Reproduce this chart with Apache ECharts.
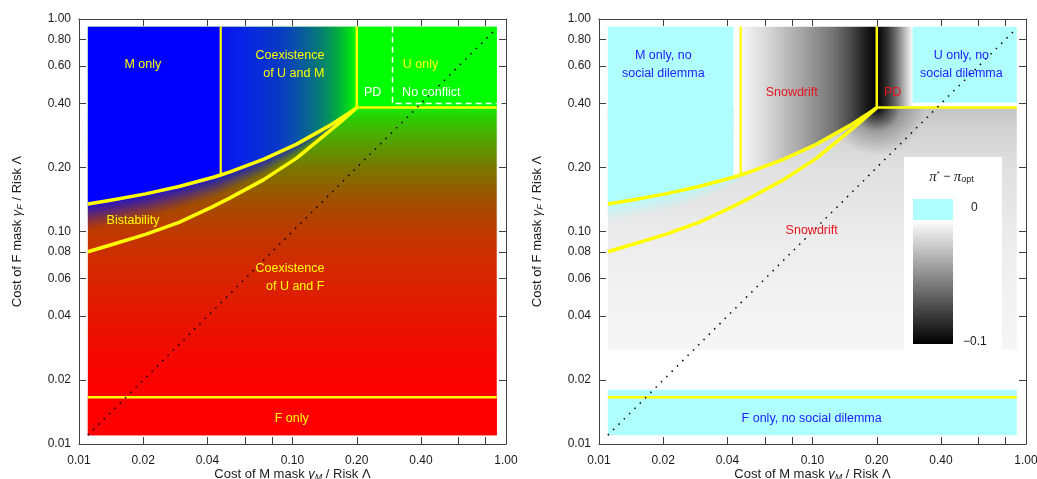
<!DOCTYPE html>
<html><head><meta charset="utf-8">
<script src="https://cdn.jsdelivr.net/npm/echarts@6/dist/echarts.min.js"></script>
<style>html,body{margin:0;padding:0;background:#fff}#c{width:1037px;height:479px}</style>
</head><body><div id="c"></div>
<script>
// ---------------- data ----------------
const axisTickValues = [0.01, 0.02, 0.04, 0.06, 0.08, 0.1, 0.2, 0.4, 0.6, 0.8, 1];
const xTickLabels = [0.01, 0.02, 0.04, 0.1, 0.2, 0.4, 1];
const yTickLabels = [0.01, 0.02, 0.04, 0.06, 0.08, 0.1, 0.2, 0.4, 0.6, 0.8, 1];
const dataExtentX = [0.011, 0.905];
const dataExtentY = [0.011, 0.92];

// upper (M-only / coexistence) boundary and lower bistability boundary
const upperBoundary = [[0.011,0.1347],[0.0143,0.1406],[0.0205,0.1503],[0.0294,0.1628],[0.0426,0.1800],[0.0461,0.1845],[0.051,0.1907],[0.073,0.2183],[0.1046,0.2577],[0.1498,0.3158],[0.1794,0.3550],[0.2,0.383]];
const lowerBoundary = [[0.011,0.0803],[0.0143,0.0869],[0.0205,0.0970],[0.0294,0.1103],[0.0421,0.1305],[0.051,0.1440],[0.073,0.1750],[0.1046,0.2215],[0.1395,0.2810],[0.1669,0.3262],[0.2,0.383]];
// lower edge of the speckled zone just below the upper boundary
const bistabilitySpeckleEdge = [[0.011,0.100],[0.0143,0.105],[0.0205,0.114],[0.0294,0.126],[0.0426,0.142],[0.0461,0.147],[0.051,0.154],[0.073,0.182],[0.1046,0.226],[0.1498,0.294],[0.1794,0.342],[0.2,0.383]];
const noDilemmaSpeckleEdge = [[0.011,0.110],[0.0143,0.115],[0.0205,0.124],[0.0294,0.139],[0.0426,0.166],[0.0461,0.176],[0.051,0.188],[0.073,0.217],[0.1046,0.2577],[0.1498,0.3158],[0.1794,0.3550],[0.2,0.383]];

const mOnlyX = 0.0461;
const pdCorner = [0.2, 0.383];
const fOnlyY = 0.0166;
const noConflictX = 0.294;
const noConflictY = 0.40;
const diagonal = [[0.011, 0.011], [0.9, 0.9]];

// left panel colour scales
const leftLowerStops = [[0.383,'#14ee08'],[0.335,'#30c800'],[0.29,'#48b000'],[0.242,'#609400'],[0.202,'#787800'],[0.168,'#8c6400'],[0.141,'#a05000'],[0.098,'#c03800'],[0.068,'#d42800'],[0.0475,'#e01c00'],[0.033,'#ec1000'],[0.023,'#f80400'],[0.0166,'#ff0000']];
const leftCoexistenceUMStops = [[0.0461,'#0a12f0'],[0.0588,'#0824e6'],[0.085,'#0838c6'],[0.101,'#0a4cb0'],[0.134,'#077a76'],[0.161,'#02a844'],[0.185,'#00dc18'],[0.2,'#00ff00']];

// right panel (pi* - pi_opt) grey scales
const rightLowerStops = [[0.383,'#c4c4c4'],[0.3,'#d2d2d2'],[0.2,'#e0e0e0'],[0.1,'#ebebeb'],[0.05,'#f2f2f2'],[0.0277,'#f6f6f6']];
const rightLowerBottom = 0.0277;
const snowdriftStops = [[0.0426,'#ffffff'],[0.0474,'#f4f4f4'],[0.061,'#d8d8d8'],[0.0874,'#a8a8a8'],[0.1254,'#747474'],[0.1497,'#4c4c4c'],[0.1795,'#1a1a1a'],[0.2,'#000000']];
const pdStops = [[0.2,'#000000'],[0.2226,'#2c2c2c'],[0.2463,'#6e6e6e'],[0.2723,'#c0c0c0'],[0.29,'#f2f2f2'],[0.294,'#ffffff']];
const mNoDilemmaRightX = 0.0426;
const uNoDilemmaBottom = 0.404;
const fNoDilemmaTop = 0.018;

// region labels [text, x, y, align, colour key]
const leftLabels = [
  ['M only', 0.0199, 0.612, 'center', 'yellow'],
  ['Coexistence\nof U and M', 0.141, 0.611, 'right', 'yellow'],
  ['U only', 0.398, 0.612, 'center', 'yellow'],
  ['PD', 0.2375, 0.452, 'center', 'white'],
  ['No conflict', 0.4467, 0.452, 'center', 'white'],
  ['Bistability', 0.0179, 0.1124, 'center', 'yellow'],
  ['Coexistence\nof U and F', 0.141, 0.0605, 'right', 'yellow'],
  ['F only', 0.0991, 0.01312, 'center', 'yellow']
];
const rightLabels = [
  ['M only, no\nsocial dilemma', 0.0200, 0.609, 'center', 'blue'],
  ['Snowdrift', 0.0799, 0.452, 'center', 'red'],
  ['PD', 0.2375, 0.452, 'center', 'red'],
  ['U only, no\nsocial dilemma', 0.498, 0.609, 'center', 'blue'],
  ['Snowdrift', 0.0991, 0.1005, 'center', 'red'],
  ['F only, no social dilemma', 0.0991, 0.01312, 'center', 'blue']
];

// ---------------- styling ----------------
const FONT = '"Liberation Sans", Arial, Helvetica, sans-serif';
const YELLOW = '#ffff00';
const CYAN = '#b0ffff';
const labelColors = { yellow: '#ffff00', white: '#ffffff', blue: '#1c1cff', red: '#e6141e' };
const AXIS_COLOR = '#404040';
const grids = [
  { left: 79, top: 19, width: 427, height: 425, outerBoundsMode: 'none' },
  { left: 599, top: 19, width: 427, height: 425, outerBoundsMode: 'none' }
];

function rgba(hex, a) {
  const n = parseInt(hex.slice(1), 16);
  return 'rgba(' + ((n >> 16) & 255) + ',' + ((n >> 8) & 255) + ',' + (n & 255) + ',' + a.toFixed(3) + ')';
}
function rectPts(x0, x1, y0, y1) { return [[x0, y0], [x1, y0], [x1, y1], [x0, y1]]; }
function regionAbove(boundary, xa, xb, yTop) {
  const pts = boundary.filter(p => p[0] >= xa - 1e-9 && p[0] <= xb + 1e-9);
  return [[xa, yTop], [xb, yTop]].concat(pts.slice().reverse());
}
function stopsGradient(api, stops, dim) {
  const pt = v => api.coord(dim === 0 ? [v, 0.1] : [0.1, v]);
  const p0 = pt(stops[0][0]), p1 = pt(stops[stops.length - 1][0]);
  const span = p1[dim] - p0[dim];
  return {
    type: 'linear', global: true,
    x: p0[0], y: p0[1], x2: dim === 0 ? p1[0] : p0[0], y2: dim === 0 ? p0[1] : p1[1],
    colorStops: stops.map(s => ({ offset: Math.min(1, Math.max(0, (pt(s[0])[dim] - p0[dim]) / span)), color: s[1] }))
  };
}
function poly(api, pts, fill) {
  return { type: 'polygon', shape: { points: pts.map(p => api.coord(p)) }, style: { fill: fill, stroke: null } };
}
// soft band between a boundary and its speckle edge, drawn as thin strips following the curve
function fadeBand(api, boundary, edge, color, alpha, strips) {
  const top = boundary.map(p => api.coord(p));
  const bot = edge.map(p => api.coord(p));
  const at = t => top.map((a, i) => [a[0] + (bot[i][0] - a[0]) * t, a[1] + (bot[i][1] - a[1]) * t]);
  const out = [];
  for (let k = 0; k < strips; k++) {
    const t0 = k / strips, t1 = (k + 1) / strips;
    const a = at(t0), b = at(t1).reverse();
    const w = 1 - (t0 + t1) / 2;
    out.push({ type: 'polygon', shape: { points: a.concat(b) },
      style: { fill: rgba(color, alpha * Math.pow(w, 1.3)), stroke: null } });
  }
  return out;
}

function renderLeft(params, api) {
  const [x0, x1] = dataExtentX, [y0, y1] = dataExtentY;
  const children = [
    poly(api, rectPts(x0, x1, y0, y1), stopsGradient(api, leftLowerStops, 1)),
    poly(api, rectPts(x0, x1, y0, fOnlyY), '#ff0000'),
    poly(api, rectPts(pdCorner[0], x1, pdCorner[1], y1), '#00ff00')
  ].concat(fadeBand(api, upperBoundary, bistabilitySpeckleEdge, '#0000ff', 0.9, 18), [
    poly(api, regionAbove(upperBoundary, x0, mOnlyX, y1), '#0000ff'),
    poly(api, regionAbove(upperBoundary, mOnlyX, pdCorner[0], y1), stopsGradient(api, leftCoexistenceUMStops, 0))
  ]);
  return { type: 'group', children: children };
}
function renderRight(params, api) {
  const [x0, x1] = dataExtentX, [y0, y1] = dataExtentY;
  const c = api.coord(pdCorner);
  const children = [
    poly(api, rectPts(x0, x1, rightLowerBottom, pdCorner[1]), stopsGradient(api, rightLowerStops, 1)),
    poly(api, rectPts(0.09, 0.7, 0.15, pdCorner[1]), { type: 'radial', global: true, x: c[0], y: c[1], r: 48,
      colorStops: [{ offset: 0, color: 'rgba(0,0,0,1)' }, { offset: 0.2, color: 'rgba(0,0,0,0.7)' }, { offset: 0.5, color: 'rgba(0,0,0,0.25)' }, { offset: 1, color: 'rgba(0,0,0,0)' }] })
  ].concat(fadeBand(api, upperBoundary, noDilemmaSpeckleEdge, CYAN, 1, 16), [
    poly(api, regionAbove(upperBoundary, mNoDilemmaRightX, pdCorner[0], y1), stopsGradient(api, snowdriftStops, 0)),
    poly(api, rectPts(pdCorner[0], noConflictX, pdCorner[1], y1), stopsGradient(api, pdStops, 0)),
    poly(api, rectPts(noConflictX, x1, uNoDilemmaBottom, y1), CYAN),
    poly(api, regionAbove(upperBoundary, x0, mNoDilemmaRightX, y1), CYAN),
    poly(api, rectPts(x0, x1, y0, fNoDilemmaTop), CYAN)
  ]);
  return { type: 'group', children: children };
}
function labelRenderer(list) {
  return function (params, api) {
    const children = list.map(l => {
      const p = api.coord([l[1], l[2]]);
      return { type: 'text', x: p[0], y: p[1], style: {
        text: l[0], fill: labelColors[l[4]], font: '12.5px ' + FONT, fontSize: 12.5, fontFamily: FONT,
        align: l[3], verticalAlign: 'middle', textAlign: l[3], textVerticalAlign: 'middle', lineHeight: 18 } };
    });
    return { type: 'group', children: children };
  };
}

function lineSeries(idx, data, color, width, type, z) {
  return { type: 'line', xAxisIndex: 2 * idx, yAxisIndex: 2 * idx, data: data, showSymbol: false, symbol: 'none',
    silent: true, animation: false, z: z, clip: true,
    lineStyle: { color: color, width: width, type: type || 'solid', cap: 'butt', join: 'round' } };
}
function panelSeries(idx, renderRegions, labels) {
  const [x0, x1] = dataExtentX, [y0, y1] = dataExtentY;
  return [
    { type: 'custom', xAxisIndex: 2 * idx, yAxisIndex: 2 * idx, data: [[0.1, 0.1]], renderItem: renderRegions, silent: true, animation: false, z: 1, clip: true },
    lineSeries(idx, upperBoundary, YELLOW, 3.5, 'solid', 3),
    lineSeries(idx, lowerBoundary, YELLOW, 3.5, 'solid', 3),
    lineSeries(idx, [[mOnlyX, 0.1845], [mOnlyX, y1]], YELLOW, 2.2, 'solid', 3),
    lineSeries(idx, [[pdCorner[0], pdCorner[1]], [pdCorner[0], y1]], YELLOW, 2.5, 'solid', 3),
    lineSeries(idx, [[pdCorner[0], pdCorner[1]], [x1, pdCorner[1]]], YELLOW, 2.5, 'solid', 3),
    lineSeries(idx, [[x0, fOnlyY], [x1, fOnlyY]], YELLOW, 2.5, 'solid', 3),
    lineSeries(idx, diagonal, '#000000', 1.5, [1.5, 6], 4),
    { type: 'custom', xAxisIndex: 2 * idx, yAxisIndex: 2 * idx, data: [[0.1, 0.1]], renderItem: labelRenderer(labels), silent: true, animation: false, z: 5, clip: false }
  ];
}

function makeXAxis(gridIndex, position, showLabels) {
  return { type: 'log', logBase: 10, gridIndex: gridIndex, position: position, min: 0.01, max: 1,
    axisLine: { show: true, onZero: false, lineStyle: { color: AXIS_COLOR, width: 1 } },
    axisTick: { show: true, inside: true, length: 7, customValues: axisTickValues, lineStyle: { color: AXIS_COLOR, width: 1 } },
    minorTick: { show: false }, splitLine: { show: false },
    axisLabel: { show: showLabels, customValues: xTickLabels, margin: 11, fontSize: 12, fontFamily: FONT, color: '#1a1a1a',
      formatter: v => Number(v).toFixed(2) } };
}
function makeYAxis(gridIndex, position, showLabels) {
  return { type: 'log', logBase: 10, gridIndex: gridIndex, position: position, min: 0.01, max: 1,
    axisLine: { show: true, onZero: false, lineStyle: { color: AXIS_COLOR, width: 1 } },
    axisTick: { show: true, inside: true, length: 7, customValues: axisTickValues, lineStyle: { color: AXIS_COLOR, width: 1 } },
    minorTick: { show: false }, splitLine: { show: false },
    axisLabel: { show: showLabels, customValues: yTickLabels, margin: 8, fontSize: 12, fontFamily: FONT, color: '#1a1a1a',
      formatter: v => Number(v).toFixed(2) } };
}

const titleRich = {
  n: { fontSize: 13, fontFamily: FONT, fill: '#1a1a1a', color: '#1a1a1a' },
  g: { fontSize: 13, fontFamily: FONT, fontStyle: 'italic', fill: '#1a1a1a', color: '#1a1a1a' },
  s: { fontSize: 9, fontFamily: FONT, fontStyle: 'italic', fill: '#1a1a1a', color: '#1a1a1a', verticalAlign: 'bottom', padding: [6, 0, 0, 0] }
};
function yTitle(x) {
  return { type: 'text', x: x, y: 231.5, rotation: Math.PI / 2, z: 50,
    style: { text: '{n|Cost of F mask }{g|γ}{s|F}{n| / Risk Λ}', rich: titleRich, align: 'center', verticalAlign: 'middle', fill: '#1a1a1a' } };
}
function xTitle(x) {
  return { type: 'text', x: x, y: 474, z: 50,
    style: { text: '{n|Cost of M mask }{g|γ}{s|M}{n| / Risk Λ}', rich: titleRich, align: 'center', verticalAlign: 'middle', fill: '#1a1a1a' } };
}

const legendGraphics = [
  { type: 'rect', shape: { x: 904, y: 157, width: 98, height: 193 }, style: { fill: '#ffffff' }, z: 100 },
  { type: 'text', x: 951.5, y: 177, z: 101, style: {
      text: '{p|π}{sup|*}{n| − }{p|π}{sub|opt}', align: 'center', verticalAlign: 'middle',
      rich: {
        p: { fontSize: 15, fontStyle: 'italic', fontFamily: '"Liberation Serif", serif', fill: '#1a1a1a', color: '#1a1a1a' },
        n: { fontSize: 12, fontFamily: FONT, fill: '#1a1a1a', color: '#1a1a1a' },
        sup: { fontSize: 8, fontFamily: FONT, fill: '#1a1a1a', color: '#1a1a1a', verticalAlign: 'top', padding: [0, 0, 6, 0] },
        sub: { fontSize: 9, fontFamily: FONT, fill: '#1a1a1a', color: '#1a1a1a', verticalAlign: 'bottom', padding: [6, 0, 0, 0] }
      } } },
  { type: 'rect', shape: { x: 913, y: 199, width: 40, height: 21 }, style: { fill: CYAN }, z: 101 },
  { type: 'text', x: 971, y: 208, z: 101, style: { text: '0', font: '12px ' + FONT, fill: '#1a1a1a', align: 'left', verticalAlign: 'middle' } },
  { type: 'rect', shape: { x: 913, y: 220, width: 40, height: 124 }, z: 101,
    style: { fill: { type: 'linear', x: 0, y: 0, x2: 0, y2: 1, colorStops: [{ offset: 0, color: '#ffffff' }, { offset: 1, color: '#000000' }] } } },
  { type: 'text', x: 963, y: 342, z: 101, style: { text: '−0.1', font: '12px ' + FONT, fill: '#1a1a1a', align: 'left', verticalAlign: 'middle' } }
];

const chart = echarts.init(document.getElementById('c'), null, { renderer: 'canvas' });
chart.setOption({
  animation: false,
  backgroundColor: '#ffffff',
  grid: grids,
  xAxis: [makeXAxis(0, 'bottom', true), makeXAxis(0, 'top', false), makeXAxis(1, 'bottom', true), makeXAxis(1, 'top', false)],
  yAxis: [makeYAxis(0, 'left', true), makeYAxis(0, 'right', false), makeYAxis(1, 'left', true), makeYAxis(1, 'right', false)],
  series: panelSeries(0, renderLeft, leftLabels).concat(panelSeries(1, renderRight, rightLabels), [
    lineSeries(0, [[noConflictX, dataExtentY[1]], [noConflictX, noConflictY], [0.99, noConflictY]], '#ffffff', 1.5, [6, 4], 3)
  ]),
  graphic: [yTitle(17.5), yTitle(537.5), xTitle(292.5), xTitle(812.5)].concat(legendGraphics)
});
</script></body></html>
